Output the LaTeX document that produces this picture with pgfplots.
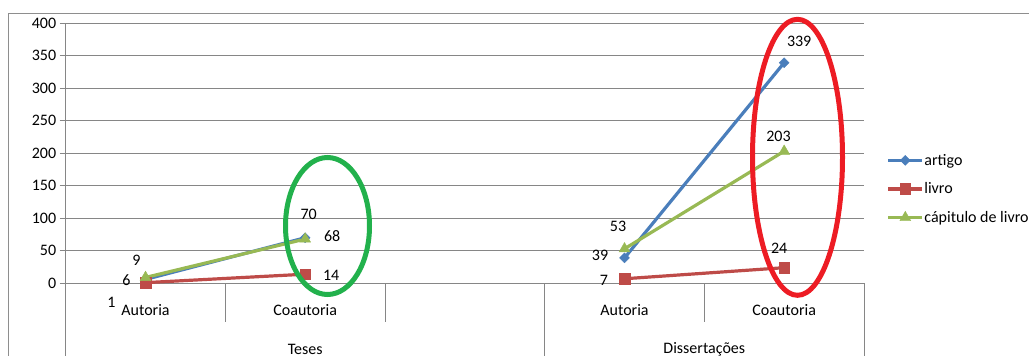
\documentclass[border=0pt]{standalone}
\usepackage{fontspec}
\setmainfont{Carlito}
\usepackage{pgfplots}
\usepackage{pgfplotstable}
\pgfplotsset{compat=1.18}

\definecolor{gridgray}{HTML}{868686}
\definecolor{framegray}{HTML}{8E8E8E}
\definecolor{artigoblue}{HTML}{4A7EBB}
\definecolor{livrored}{HTML}{BE4B48}
\definecolor{capgreen}{HTML}{98B954}
\definecolor{ringgreen}{HTML}{22B14C}
\definecolor{ringred}{HTML}{ED1C24}
\newcommand\fsz{\fontsize{16}{19}\selectfont}

% x: 0 Teses/Autoria, 1 Teses/Coautoria, 2 (empty), 3 Dissertações/Autoria, 4 Dissertações/Coautoria
% dx, dy: offset of each value label from its point
\pgfplotstableread{
x y dx dy
0 6 -19 -1
1 70 3.5 23
2 nan 0 0
3 39 -24.5 2.6
4 339 15 21
}\artigo
\pgfplotstableread{
x y dx dy
0 1 -34 -19.5
1 14 26 -1
2 nan 0 0
3 7 -20.5 -1.6
4 24 -5 19.6
}\livro
\pgfplotstableread{
x y dx dy
0 9 -9 17
1 68 27 3
2 nan 0 0
3 53 -6.5 22
4 203 -5.7 15
}\capitulo

\pgfplotsset{
  vlabels/.style={
    nodes near coords,
    visualization depends on={\thisrow{dx}\as\dx},
    visualization depends on={\thisrow{dy}\as\dy},
    every node near coord/.append style={font=\fsz, text=black, anchor=center,
      inner sep=0pt, xshift=\dx pt, yshift=\dy pt},
  },
}

\begin{document}
\begin{tikzpicture}
\useasboundingbox (0pt,0pt) rectangle (1029pt,-356pt);
\clip (0pt,0pt) rectangle (1029pt,-356pt);

% chart frame
\draw[framegray, line width=0.9pt] (8.3pt,-370pt) -- (8.3pt,-13.3pt) -- (1040pt,-13.3pt);

\begin{axis}[
  at={(65.7pt,-283.3pt)}, anchor=south west,
  scale only axis, width=798.3pt, height=260.3pt,
  xmin=-0.5, xmax=4.5, ymin=0, ymax=400,
  axis x line*=bottom, axis y line*=left,
  axis line style={gridgray, line width=0.9pt, -},
  ytick={0,50,...,400},
  ymajorgrids, major grid style={gridgray, line width=0.9pt},
  y tick style={gridgray, line width=0.9pt},
  tick align=outside, major tick length=6pt,
  yticklabel style={font=\fsz, text=black},
  /pgf/number format/assume math mode=true,
  xtick={0,1,3,4},
  xticklabels={Autoria,Coautoria,Autoria,Coautoria},
  x tick style={draw=none},
  xticklabel style={font=\fsz, text=black, yshift=-12pt},
  unbounded coords=jump,
  clip=false,
  legend style={at={(1.0282,0.3623)}, anchor=west, draw=none, fill=none,
    inner sep=0pt, font=\fsz, row sep=12pt, nodes={inner xsep=0.5pt}},
  legend cell align=left,
  legend image code/.code={%
    \draw[#1, mark repeat=2, mark phase=2, overlay]
      plot coordinates {(0pt,0pt) (17pt,0pt) (34pt,0pt)};
    \path (0pt,-5pt) (34pt,5pt);},
]
\addplot[artigoblue, line width=3.2pt, mark=square*, mark size=3.5pt,
  mark options={rotate=45, solid, fill=artigoblue, line width=0.4pt}, vlabels]
  table[x=x, y=y] {\artigo};
\addlegendentry{artigo}
\addplot[livrored, line width=3.2pt, mark=square*, mark size=5.3pt,
  mark options={solid, fill=livrored, line width=0.4pt}, vlabels]
  table[x=x, y=y] {\livro};
\addlegendentry{livro}
\addplot[capgreen, line width=3.2pt, mark=triangle*, mark size=6.3pt,
  mark options={solid, fill=capgreen, line width=0.4pt}, vlabels]
  table[x=x, y=y] {\capitulo};
\addlegendentry{cápitulo de livro}
\end{axis}

% multi-level category axis
\draw[gridgray, line width=0.9pt]
  (65.7pt,-283.3pt) -- (65.7pt,-370pt)
  (544.7pt,-283.3pt) -- (544.7pt,-370pt)
  (864pt,-283.3pt) -- (864pt,-370pt)
  (225.4pt,-283.3pt) -- (225.4pt,-321.7pt)
  (385.0pt,-283.3pt) -- (385.0pt,-321.7pt)
  (704.3pt,-283.3pt) -- (704.3pt,-321.7pt);
\node[font=\fsz, anchor=center, inner sep=0pt] at (305.2pt,-349pt) {Teses};
\node[font=\fsz, anchor=center, inner sep=0pt] at (704.3pt,-349pt) {Dissertações};

% highlight rings
\draw[ringgreen, line width=5pt] (327.5pt,-226pt) ellipse [x radius=42pt, y radius=68.5pt];
\draw[ringred, line width=5pt] (797.5pt,-157.3pt) ellipse [x radius=45pt, y radius=138pt];
\end{tikzpicture}
\end{document}
